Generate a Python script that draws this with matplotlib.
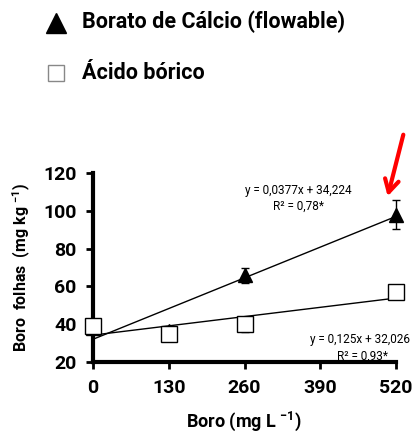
import matplotlib
matplotlib.use("Agg")
import matplotlib.pyplot as plt
from matplotlib.lines import Line2D

FONT = 'Roboto'
plt.rcParams['font.family'] = [FONT, 'DejaVu Sans']
plt.rcParams['mathtext.fontset'] = 'custom'
plt.rcParams['mathtext.rm'] = FONT
plt.rcParams['mathtext.bf'] = FONT + ':bold'

# Data
doses = [0, 130, 260, 520]
borato = [38, 36.5, 66, 98]
borato_err = [0, 0, 4, 7.5]
acido = [39, 35, 40, 57]
acido_err = [0, 0, 4, 2]
# trend line coefficients (slope, intercept)
borato_fit = (0.125, 32.026)
acido_fit = (0.0377, 34.224)
xticks = [0, 130, 260, 390, 520]
yticks = [20, 40, 60, 80, 100, 120]
label_borato = "Borato de Cálcio (flowable)"
label_acido = "Ácido bórico"
eq_acido = ["y = 0,0377x + 34,224", "R² = 0,78*"]
eq_borato = ["y = 0,125x + 32,026", "R² = 0,93*"]

fig = plt.figure(figsize=(4.16, 4.41), dpi=100)
ax = fig.add_axes([93/416, 1-362/441, 303/416, 189/441])

xl = [doses[0], doses[-1]]
ax.plot(xl, [borato_fit[1] + borato_fit[0]*x for x in xl], color='black', lw=1, zorder=2)
ax.plot(xl, [acido_fit[1] + acido_fit[0]*x for x in xl], color='black', lw=1, zorder=2)

ax.errorbar(doses, borato, yerr=borato_err, fmt='^', color='black', ms=10,
            capsize=3, elinewidth=1, capthick=1, clip_on=False, zorder=3)
ax.errorbar(doses, acido, yerr=acido_err, fmt='s', mfc='white', mec='black', ecolor='black',
            ms=11, mew=1, capsize=3, elinewidth=1, capthick=1, clip_on=False, zorder=4)

ax.set_xlim(0, 520)
ax.set_ylim(20, 120)
ax.set_xticks(xticks)
ax.set_yticks(yticks)
for s in ['top', 'right']:
    ax.spines[s].set_visible(False)
for s in ['left', 'bottom']:
    ax.spines[s].set_linewidth(3)
ax.tick_params(axis='both', direction='out', length=5, width=2, labelsize=14, pad=7)
for lab in ax.get_xticklabels() + ax.get_yticklabels():
    lab.set_fontweight('bold')

ax.set_xlabel(r'Boro (mg L $\mathbf{^{-1}}$)', fontsize=13, fontweight='bold', labelpad=9)
ax.set_ylabel(r'Boro  folhas  (mg kg $\mathbf{^{-1}}$)', fontsize=11.5, fontweight='bold', labelpad=7)

ax.text(352, 110.7, eq_acido[0], ha='center', va='center', fontsize=8.5)
ax.text(352, 102.2, eq_acido[1], ha='center', va='center', fontsize=8.5)
ax.text(458, 31.7, eq_borato[0], ha='center', va='center', fontsize=8.5)
ax.text(463, 23.2, eq_borato[1], ha='center', va='center', fontsize=8.5)

# legend (manual)
fig.add_artist(Line2D([56/416], [1-23/441], marker='^', color='black', ms=14, ls='none'))
fig.add_artist(Line2D([56/416], [1-73/441], marker='s', mfc='white', mec='#888888', mew=1, ms=11, ls='none'))
fig.text(82/416, 1-22/441, label_borato, fontsize=15.5, fontweight='bold', va='center', ha='left')
fig.text(82/416, 1-73/441, label_acido, fontsize=15.5, fontweight='bold', va='center', ha='left')

# red arrow
ax.annotate('', xy=(387, 441-199), xycoords='figure pixels',
            xytext=(404, 441-132), textcoords='figure pixels',
            arrowprops=dict(arrowstyle='->,head_length=0.9,head_width=0.5', color='red', lw=3))

fig.savefig('out.png', dpi=100)
